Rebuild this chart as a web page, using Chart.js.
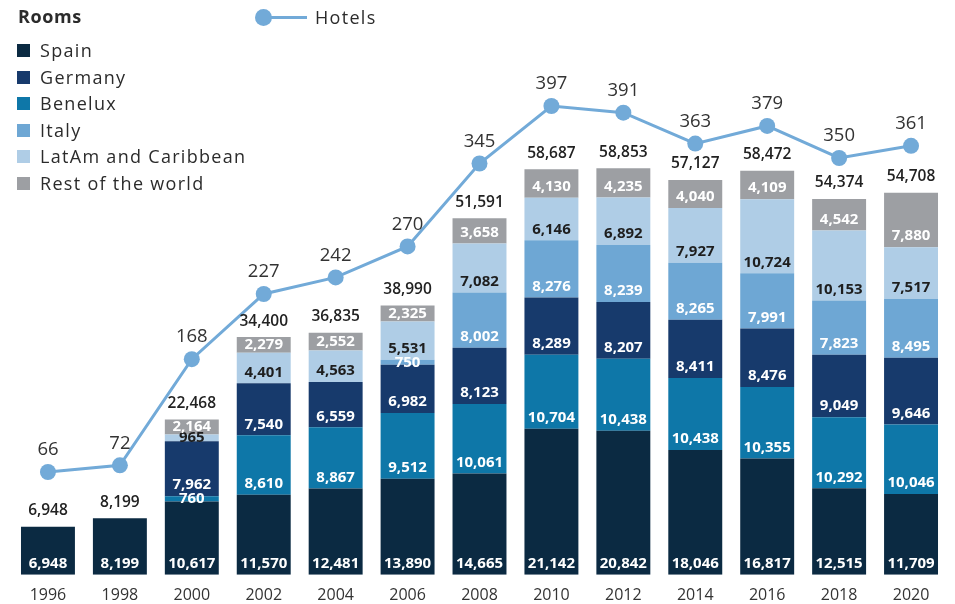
<!DOCTYPE html>
<html>
<head>
<meta charset="utf-8">
<script src="https://cdn.jsdelivr.net/npm/chart.js@4.4.0/dist/chart.umd.min.js"></script>
<style>
  html, body { margin: 0; padding: 0; background: #fff; }
  #contenedor { position: relative; width: 955px; height: 604px; font-family: "Open Sans", sans-serif; color: #2b2b2b; }
  #grafica { position: absolute; left: 0; top: 0; }
  #titulo { position: absolute; left: 18px; top: 4px; font-size: 18px; font-weight: 700; letter-spacing: 0.6px; }
  .item { position: absolute; left: 17px; height: 20px; line-height: 20px; font-size: 18px; letter-spacing: 1.3px; white-space: nowrap; }
  .item span.cuadro { position: absolute; left: 0; top: 4px; width: 13px; height: 13px; }
  .item span.texto { position: absolute; left: 23px; top: 0; }
  #hoteles { position: absolute; left: 255px; top: 7px; height: 20px; width: 130px; }
  #hoteles .linea { position: absolute; left: 8px; top: 9px; width: 44px; height: 3px; }
  #hoteles .punto { position: absolute; left: 0; top: 2px; width: 17px; height: 17px; border-radius: 50%; }
  #hoteles .texto { position: absolute; left: 60px; top: -2px; font-size: 18px; letter-spacing: 1.3px; line-height: 24px; }
</style>
</head>
<body>
<div id="contenedor">
  <canvas id="grafica" width="955" height="604"></canvas>
  <div id="titulo">Rooms</div>
  <div id="hoteles"><div class="linea"></div><div class="punto"></div><div class="texto">Hotels</div></div>
  <div id="leyenda"></div>
</div>
<script>
// datos
const anios = ['1996', '1998', '2000', '2002', '2004', '2006', '2008', '2010', '2012', '2014', '2016', '2018', '2020'];
const espana   = [6948, 8199, 10617, 11570, 12481, 13890, 14665, 21142, 20842, 18046, 16817, 12515, 11709];
const benelux  = [0, 0, 760, 8610, 8867, 9512, 10061, 10704, 10438, 10438, 10355, 10292, 10046];
const alemania = [0, 0, 7962, 7540, 6559, 6982, 8123, 8289, 8207, 8411, 8476, 9049, 9646];
const italia   = [0, 0, 0, 0, 0, 750, 8002, 8276, 8239, 8265, 7991, 7823, 8495];
const latam    = [0, 0, 965, 4401, 4563, 5531, 7082, 6146, 6892, 7927, 10724, 10153, 7517];
const resto    = [0, 0, 2164, 2279, 2552, 2325, 3658, 4130, 4235, 4040, 4109, 4542, 7880];
const totales  = [6948, 8199, 22468, 34400, 36835, 38990, 51591, 58687, 58853, 57127, 58472, 54374, 54708];
const hoteles  = [66, 72, 168, 227, 242, 270, 345, 397, 391, 363, 379, 350, 361];

const colores = {
  espana: '#0b2a42',
  alemania: '#173a6c',
  benelux: '#0e77a8',
  italia: '#6ea7d4',
  latam: '#afcde6',
  resto: '#9d9fa3',
  hoteles: '#72aad8'
};

// leyenda (orden del original)
const leyenda = [
  ['Spain', colores.espana],
  ['Germany', colores.alemania],
  ['Benelux', colores.benelux],
  ['Italy', colores.italia],
  ['LatAm and Caribbean', colores.latam],
  ['Rest of the world', colores.resto]
];
const cajaLeyenda = document.getElementById('leyenda');
leyenda.forEach(function (item, i) {
  const div = document.createElement('div');
  div.className = 'item';
  div.style.top = (40 + i * 26.6) + 'px';
  div.innerHTML = '<span class="cuadro" style="background:' + item[1] + '"></span><span class="texto">' + item[0] + '</span>';
  cajaLeyenda.appendChild(div);
});
document.querySelector('#hoteles .linea').style.background = colores.hoteles;
document.querySelector('#hoteles .punto').style.background = colores.hoteles;

const fmt = v => v.toLocaleString('en-US');

// etiquetas de valores dentro de barras, totales y hoteles
const etiquetas = {
  id: 'etiquetas',
  afterDatasetsDraw(chart) {
    const ctx = chart.ctx;
    ctx.save();
    ctx.textAlign = 'center';
    ctx.textBaseline = 'middle';
    const topes = [];
    chart.data.datasets.forEach(function (ds, i) {
      if (ds.type === 'line') return;
      const meta = chart.getDatasetMeta(i);
      meta.data.forEach(function (barra, j) {
        const v = ds.data[j];
        if (!v) return;
        topes[j] = Math.min(topes[j] === undefined ? Infinity : topes[j], barra.y);
        const alto = barra.base - barra.y;
        const y = Math.max(barra.base - 11, barra.y + alto / 2);
        ctx.font = '700 15px "Open Sans"';
        ctx.fillStyle = ds.colorTexto;
        ctx.fillText(fmt(v), barra.x, y);
      });
    });
    // totales
    const metaBase = chart.getDatasetMeta(1);
    ctx.font = '600 15.5px "Open Sans"';
    ctx.fillStyle = '#222';
    totales.forEach(function (t, j) {
      ctx.fillText(fmt(t), metaBase.data[j].x, topes[j] - 16);
    });
    // hoteles
    const iLinea = chart.data.datasets.findIndex(d => d.type === 'line');
    const metaLinea = chart.getDatasetMeta(iLinea);
    ctx.font = '400 18.5px "Open Sans"';
    ctx.fillStyle = '#333';
    metaLinea.data.forEach(function (p, j) {
      ctx.fillText(String(hoteles[j]), p.x, p.y - 22);
    });
    ctx.restore();
  }
};

function barra(nombre, datos, color, colorTexto) {
  return {
    type: 'bar',
    label: nombre,
    data: datos,
    backgroundColor: color,
    colorTexto: colorTexto,
    stack: 'rooms',
    yAxisID: 'y',
    barPercentage: 0.75,
    categoryPercentage: 1,
    borderWidth: 0,
    order: 2
  };
}

const ctx = document.getElementById('grafica').getContext('2d');
new Chart(ctx, {
  data: {
    labels: anios,
    datasets: [
      {
        type: 'line',
        label: 'Hotels',
        data: hoteles,
        borderColor: colores.hoteles,
        backgroundColor: colores.hoteles,
        borderWidth: 3,
        pointRadius: 8,
        pointHoverRadius: 8,
        pointBorderWidth: 0,
        tension: 0,
        yAxisID: 'y1',
        order: 1
      },
      barra('Spain', espana, colores.espana, '#ffffff'),
      barra('Benelux', benelux, colores.benelux, '#ffffff'),
      barra('Germany', alemania, colores.alemania, '#ffffff'),
      barra('Italy', italia, colores.italia, '#ffffff'),
      barra('LatAm and Caribbean', latam, colores.latam, '#1e1e1e'),
      barra('Rest of the world', resto, colores.resto, '#ffffff')
    ]
  },
  options: {
    responsive: false,
    animation: false,
    layout: { padding: { top: 22, left: 12, right: 7, bottom: -12 } },
    plugins: {
      legend: { display: false },
      tooltip: { enabled: false }
    },
    scales: {
      x: {
        stacked: true,
        offset: true,
        grid: { display: false, drawTicks: false },
        border: { display: false },
        ticks: { color: '#333', font: { family: 'Open Sans', size: 16 }, padding: 11 }
      },
      y: {
        stacked: true,
        display: false,
        min: 0,
        max: 80000
      },
      y1: {
        display: false,
        min: -27,
        max: 473
      }
    }
  },
  plugins: [etiquetas]
});
</script>
</body>
</html>
